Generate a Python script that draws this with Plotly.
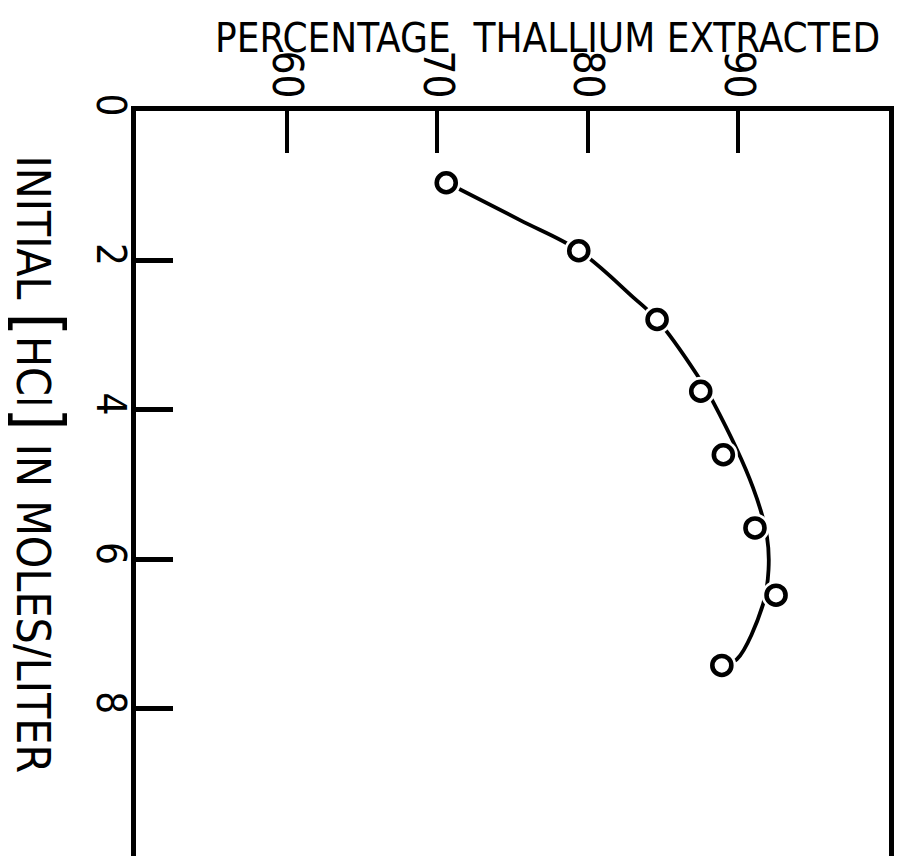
import plotly.graph_objects as go

# Measured extraction points: initial HCl (mol/L) vs. % thallium extracted
hcl_molar = [0.96, 1.87, 2.79, 3.75, 4.60, 5.58, 6.48, 7.42]
pct_extracted = [70.6, 79.4, 84.6, 87.5, 89.0, 91.1, 92.5, 88.9]

# Smooth trend curve drawn through the measurements
curve_hcl = [0.96, 1.46, 1.87, 2.49, 2.79, 3.53, 3.89, 5.04, 5.70, 6.14, 6.60, 7.34, 7.42]
curve_pct = [70.65, 75.5, 79.42, 83.0, 84.59, 87.25, 88.31, 90.97, 91.9, 92.0, 91.64, 89.89, 88.9]

pct_ticks = [60, 70, 80, 90]
hcl_ticks = [0, 2, 4, 6, 8]

INK = "#000000"
LETTER_FONT = "Liberation Sans Narrow, DejaVu Sans Condensed, Arial Narrow, sans-serif"

fig = go.Figure()

# trend curve
fig.add_trace(go.Scatter(
    x=curve_pct, y=curve_hcl, mode="lines",
    line=dict(color=INK, width=3.8, shape="spline", smoothing=1.0),
    hoverinfo="skip", showlegend=False,
))
# white halo so the curve stops short of each circle
fig.add_trace(go.Scatter(
    x=pct_extracted, y=hcl_molar, mode="markers",
    marker=dict(symbol="circle", size=29, color="white", line=dict(width=0)),
    hoverinfo="skip", showlegend=False,
))
# open-circle data markers
fig.add_trace(go.Scatter(
    x=pct_extracted, y=hcl_molar, mode="markers",
    marker=dict(symbol="circle", size=19, color="white", line=dict(color=INK, width=4.6)),
    showlegend=False,
))

fig.update_xaxes(
    range=[50, 100], side="top",
    tickvals=pct_ticks, ticktext=[str(v) for v in pct_ticks],
    ticks="inside", ticklen=42, tickwidth=4.2, tickcolor=INK,
    tickangle=90, ticklabelstandoff=-7,
    tickfont=dict(family=LETTER_FONT, size=42, color=INK),
    showline=True, linewidth=4.5, linecolor=INK, mirror=False,
    showgrid=False, zeroline=False,
)
fig.update_yaxes(
    range=[9.97, 0],
    tickvals=hcl_ticks, ticktext=[str(v) for v in hcl_ticks],
    ticks="inside", ticklen=37, tickwidth=4.6, tickcolor=INK,
    tickangle=90, ticklabelstandoff=-14,
    tickfont=dict(family=LETTER_FONT, size=40, color=INK),
    showline=True, linewidth=4.5, linecolor=INK, mirror=True,
    showgrid=False, zeroline=False,
)

big = '<span style="font-size:66px">'
fig.add_annotation(
    text="PERCENTAGE\u00a0\u00a0THALLIUM EXTRACTED",
    xref="paper", yref="paper", x=0.547, y=1.098,
    xanchor="center", yanchor="middle", showarrow=False,
    font=dict(family=LETTER_FONT, size=40, color=INK),
)
fig.add_annotation(
    text="INITIAL " + big + "[</span>HCl" + big + "]</span> IN MOLES/LITER",
    xref="paper", yref="paper", x=-0.128, y=0.526,
    xanchor="center", yanchor="middle", textangle=90, showarrow=False,
    font=dict(family=LETTER_FONT, size=46, color=INK),
)

fig.update_layout(
    width=901, height=856,
    margin=dict(l=136, r=12, t=111, b=0),
    paper_bgcolor="white", plot_bgcolor="white",
)

fig.write_html("out.html")
